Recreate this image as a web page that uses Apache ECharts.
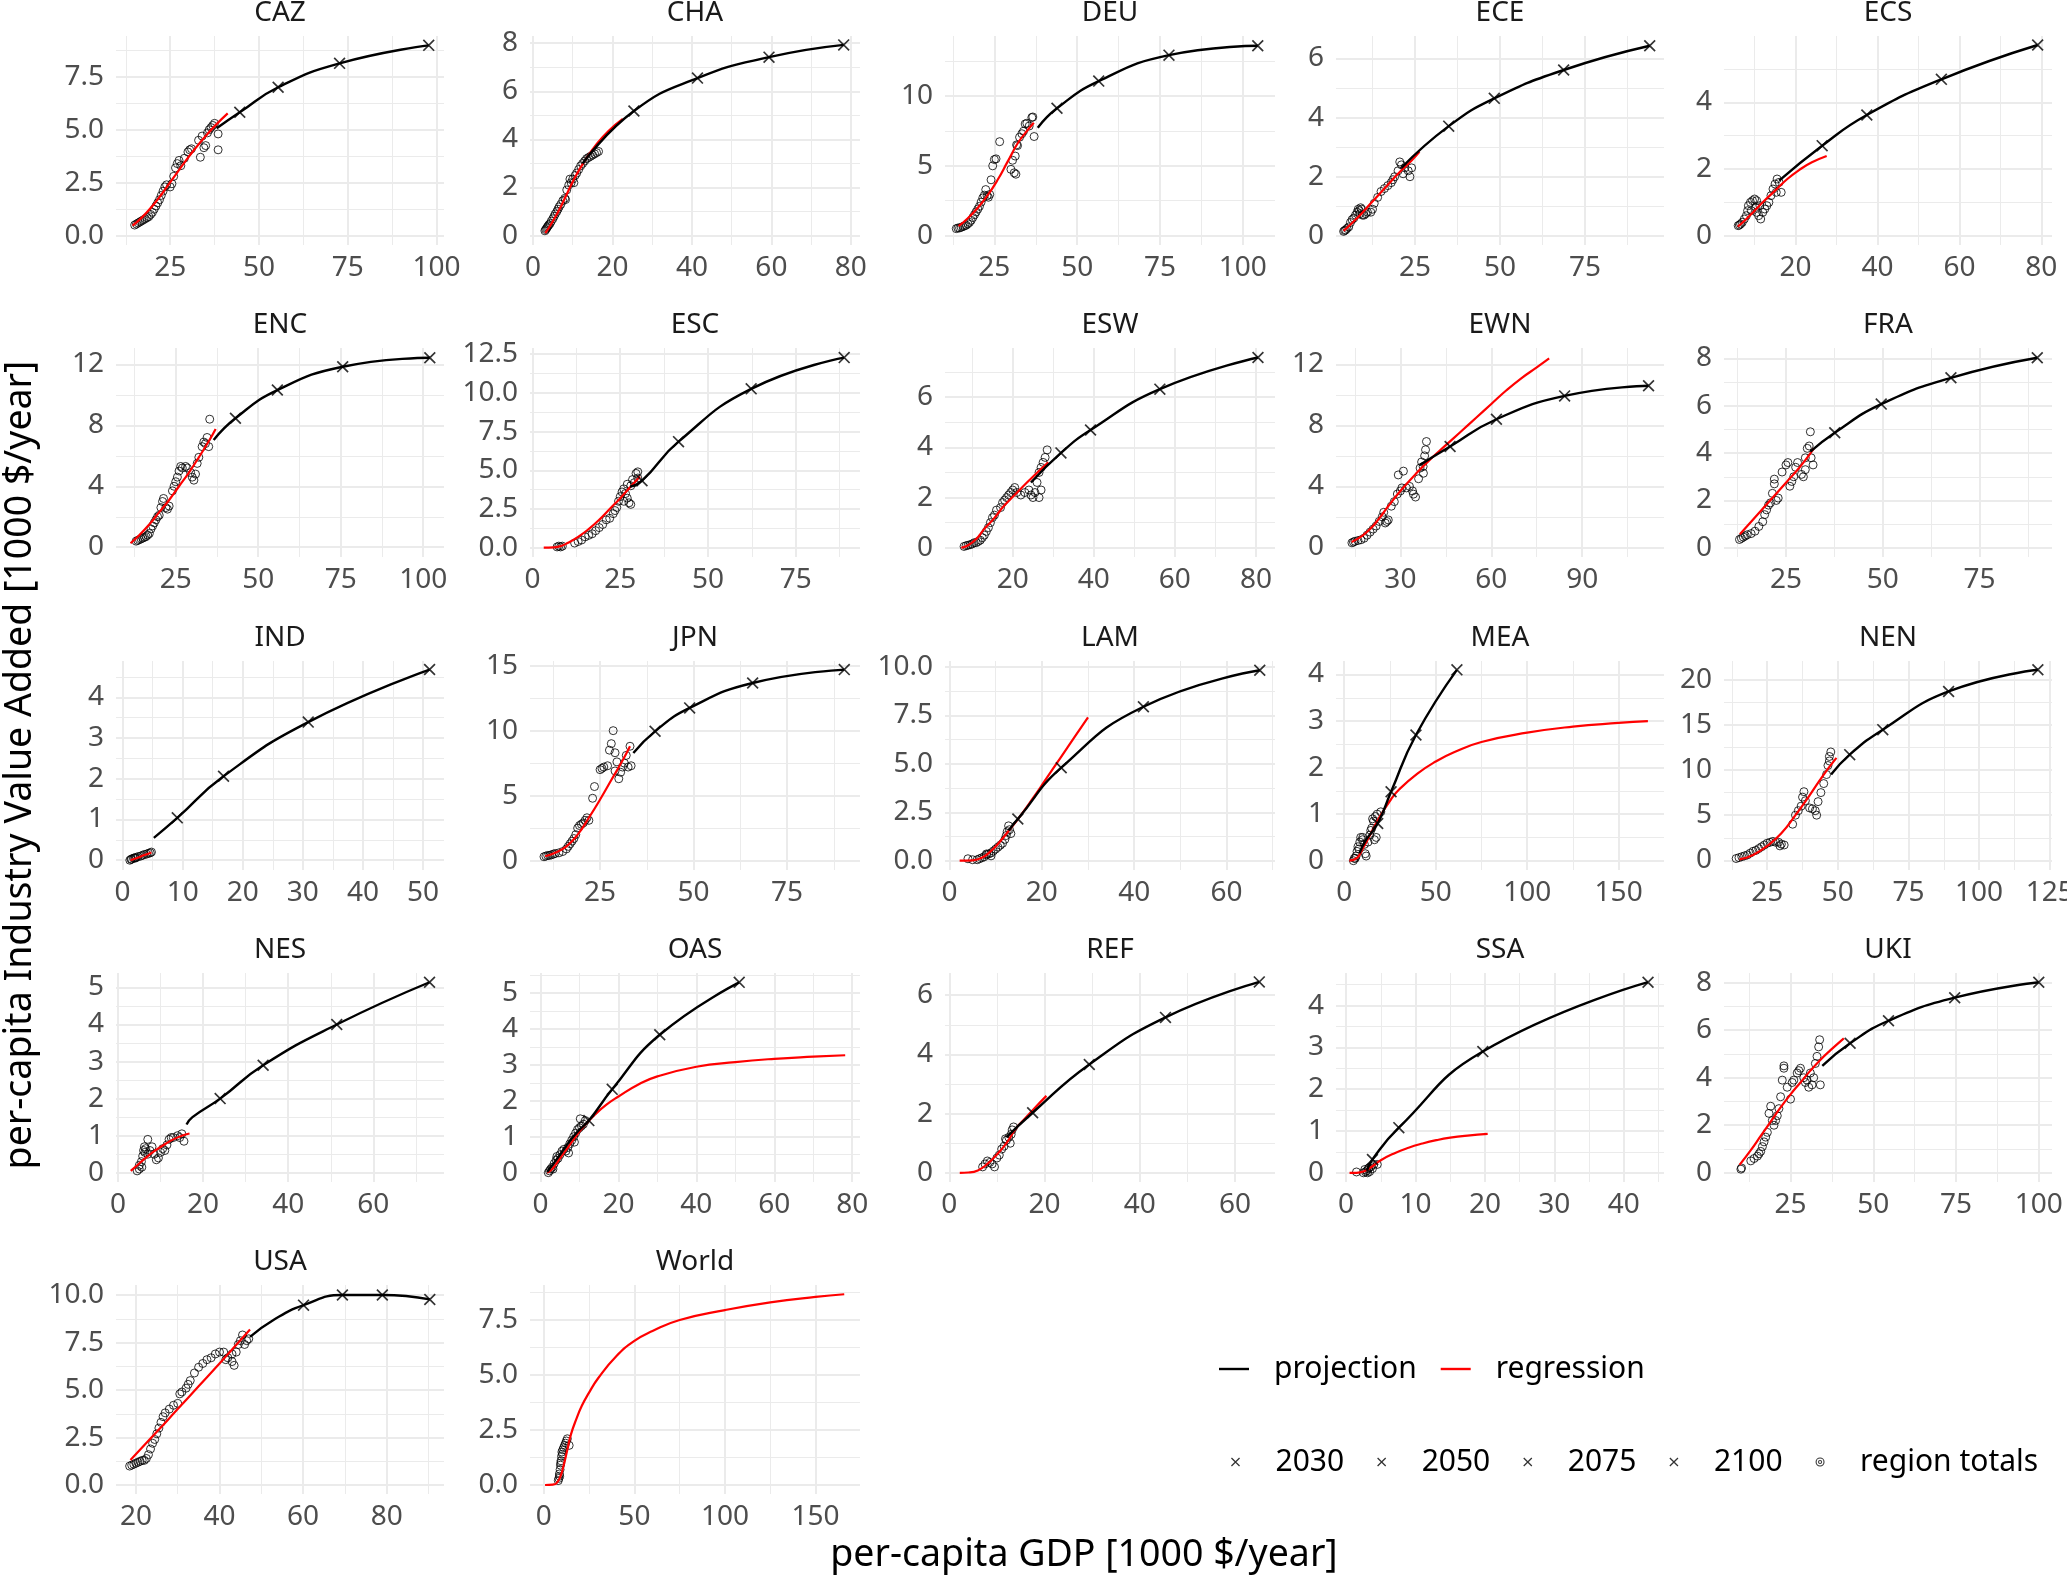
<!DOCTYPE html>
<html><head><meta charset="utf-8">
<script src="https://cdn.jsdelivr.net/npm/echarts@6/dist/echarts.min.js"></script>
<style>html,body{margin:0;padding:0;background:#fff}#c{width:2067px;height:1577px}</style>
</head><body><div id="c"></div>
<script>
const regions = ['CAZ','CHA','DEU','ECE','ECS','ENC','ESC','ESW','EWN','FRA','IND','JPN','LAM','MEA','NEN','NES','OAS','REF','SSA','UKI','USA','World'];
const yearNames = ['2030','2050','2075','2100'];

// ---- axis limits and tick labels per panel ----
const CAZ_xRange=[9.75,102.1], CAZ_xTicks=[25,50,75,100], CAZ_yRange=[-0.44,9.42], CAZ_yTicks=[0,2.5,5,7.5];
const CHA_xRange=[-0.75,82.3], CHA_xTicks=[0,20,40,60,80], CHA_yRange=[-0.39,8.30], CHA_yTicks=[0,2,4,6,8];
const DEU_xRange=[10.1,109.7], DEU_xTicks=[25,50,75,100], DEU_yRange=[-0.67,14.3], DEU_yTicks=[0,5,10];
const ECE_xRange=[1.76,98.2], ECE_xTicks=[25,50,75], ECE_yRange=[-0.31,6.76], ECE_yTicks=[0,2,4,6];
const ECS_xRange=[2.54,82.6], ECS_xTicks=[20,40,60,80], ECS_yRange=[-0.28,5.99], ECS_yTicks=[0,2,4];
const ENC_xRange=[6.9,106.3], ENC_xTicks=[25,50,75,100], ENC_yRange=[-0.64,13.07], ENC_yTicks=[0,4,8,12];
const ESC_xRange=[-0.71,93.3], ESC_xTicks=[0,25,50,75], ESC_yRange=[-0.6,12.9], ESC_yTicks=[0,2.5,5,7.5,10,12.5];
const ESW_xRange=[3.3,84.7], ESW_xTicks=[20,40,60,80], ESW_yRange=[-0.37,7.96], ESW_yTicks=[0,2,4,6];
const EWN_xRange=[8.75,117], EWN_xTicks=[30,60,90], EWN_yRange=[-0.63,13.07], EWN_yTicks=[0,4,8,12];
const FRA_xRange=[9.0,93.7], FRA_xTicks=[25,50,75], FRA_yRange=[-0.39,8.44], FRA_yTicks=[0,2,4,6,8];
const IND_xRange=[-1.1,53.5], IND_xTicks=[0,10,20,30,40,50], IND_yRange=[-0.24,4.89], IND_yTicks=[0,1,2,3,4];
const JPN_xRange=[6.26,94.5], JPN_xTicks=[25,50,75], JPN_yRange=[-0.72,15.36], JPN_yTicks=[0,5,10,15];
const LAM_xRange=[-0.97,70.5], LAM_xTicks=[0,20,40,60], LAM_yRange=[-0.48,10.31], LAM_yTicks=[0,2.5,5,7.5,10];
const MEA_xRange=[-4.5,174.8], MEA_xTicks=[0,50,100,150], MEA_yRange=[-0.2,4.29], MEA_yTicks=[0,1,2,3,4];
const NEN_xRange=[9.7,125.8], NEN_xTicks=[25,50,75,100,125], NEN_yRange=[-1.07,22.07], NEN_yTicks=[0,5,10,15,20];
const NES_xRange=[-0.47,76.6], NES_xTicks=[0,20,40,60], NES_yRange=[-0.25,5.39], NES_yTicks=[0,1,2,3,4,5];
const OAS_xRange=[-2.7,82], OAS_xTicks=[0,20,40,60,80], OAS_yRange=[-0.26,5.56], OAS_yTicks=[0,1,2,3,4,5];
const REF_xRange=[-0.9,68.4], REF_xTicks=[0,20,40,60], REF_yRange=[-0.31,6.75], REF_yTicks=[0,2,4,6];
const SSA_xRange=[-1.45,45.8], SSA_xTicks=[0,10,20,30,40], SSA_yRange=[-0.22,4.78], SSA_yTicks=[0,1,2,3,4];
const UKI_xRange=[4.9,104], UKI_xTicks=[25,50,75,100], UKI_yRange=[-0.39,8.41], UKI_yTicks=[0,2,4,6,8];
const USA_xRange=[15.24,93.7], USA_xTicks=[20,40,60,80], USA_yRange=[-0.47,10.53], USA_yTicks=[0,2.5,5,7.5,10];
const World_xRange=[-7.6,174.5], World_xTicks=[0,50,100,150], World_yRange=[-0.41,9.09], World_yTicks=[0,2.5,5,7.5];

// ---- data: region totals, regression curve, projection start, projection years (2030,2050,2075,2100) ----
const CAZ_points=[[15,0.5],[15.5,0.55],[16,0.6],[16.5,0.65],[17,0.7],[17.5,0.75],[18,0.8],[18.5,0.85],[19,0.9],[19.5,1.0],[20,1.1],[20.5,1.25],[21,1.4],[21.5,1.55],[22,1.7],[22.5,1.9],[23,2.1],[23.5,2.3],[24,2.4],[25,2.3],[25.5,2.45],[26,2.8],[26.5,3.2],[27,3.4],[27.5,3.55],[28,3.3],[29,3.65],[30,3.95],[30.5,4.05],[31,4.1],[33,4.5],[33.5,3.7],[34,4.7],[34.5,4.15],[35,4.25],[35.5,4.85],[36,5.0],[36.5,5.1],[37,5.2],[37.5,5.3],[38.5,4.8],[38.5,4.05]];
const CAZ_regression=[[14.4,0.47],[17,0.85],[20,1.4],[23,2.05],[26,2.75],[29,3.45],[32,4.1],[35,4.7],[38,5.25],[41.2,5.77]];
const CAZ_projection=[[38.1,5.07]];
const CAZ_years=[[44.6,5.82],[55.4,7.0],[72.7,8.13],[97.8,8.98]];

const CHA_points=[[3,0.2],[3.2,0.25],[3.4,0.3],[3.6,0.35],[3.8,0.4],[4,0.45],[4.3,0.5],[4.6,0.6],[5,0.7],[5.3,0.8],[5.6,0.9],[6,1.0],[6.3,1.1],[6.6,1.2],[7,1.3],[7.5,1.45],[8,1.55],[8.2,1.5],[8.5,1.9],[9,2.1],[9.3,2.35],[9.6,2.2],[10,2.35],[10.3,2.2],[10.6,2.5],[11,2.6],[11.5,2.75],[12,2.9],[12.5,3.0],[13,3.1],[13.5,3.2],[14,3.25],[14.5,3.3],[15,3.35],[15.5,3.4],[16,3.45],[16.5,3.5]];
const CHA_regression=[[3.1,0.1],[5,0.6],[7,1.2],[9,1.9],[11,2.55],[13,3.1],[16,3.8],[19,4.35],[22.6,4.85]];
const CHA_projection=[[12.5,3.0]];
const CHA_years=[[25.4,5.18],[41.4,6.55],[59.4,7.42],[78.2,7.93]];

const DEU_points=[[13.5,0.5],[14,0.55],[14.5,0.55],[15,0.6],[15.5,0.65],[16,0.7],[16.5,0.75],[17,0.85],[17.5,0.95],[18,1.1],[18.5,1.3],[19,1.5],[19.5,1.7],[20,1.9],[20.5,2.1],[21,2.4],[21.5,2.7],[22,2.9],[22.4,3.3],[22.8,2.85],[23.2,2.75],[23.6,2.95],[24,4.0],[24.5,5.0],[25,5.45],[25.5,5.5],[26.6,6.73],[30,4.75],[30.5,5.4],[31,4.5],[31.3,5.7],[31.5,4.4],[31.7,6.5],[32,6.45],[32.6,7.05],[33.3,7.3],[33.8,7.48],[34.3,8.0],[34.8,8.05],[35.5,7.85],[36.3,8.46],[36.6,8.5],[37,7.1]];
const DEU_regression=[[14.2,0.69],[17,1.25],[20,2.0],[23,2.9],[26,4.0],[29,5.3],[32,6.6],[34.5,7.4],[36.9,8.09]];
const DEU_projection=[[38.1,7.73]];
const DEU_years=[[43.9,9.12],[56.5,11.07],[77.7,12.93],[104.5,13.6]];

const ECE_points=[[4,0.15],[4.3,0.18],[4.6,0.2],[5,0.25],[5.5,0.3],[6,0.45],[6.5,0.55],[7,0.6],[7.5,0.7],[8,0.8],[8.3,0.9],[8.6,0.85],[8.8,0.75],[9,0.95],[9.3,0.9],[9.5,0.7],[10,0.7],[10.5,0.75],[11,0.8],[12,0.8],[12.5,0.9],[13,1.1],[14,1.3],[15,1.5],[16,1.6],[17,1.7],[18,1.8],[18.5,1.9],[19,2.0],[20,2.2],[20.5,2.5],[21,2.4],[21.5,2.1],[22,2.3],[23,2.2],[23.5,2.0],[24,2.3]];
const ECE_regression=[[4,0.17],[8,0.6],[12,1.1],[16,1.6],[20,2.1],[24,2.55],[26.3,2.84]];
const ECE_projection=[[21,2.3]];
const ECE_years=[[34.9,3.71],[48.3,4.65],[68.7,5.61],[94,6.43]];

const ECS_points=[[6,0.3],[6.3,0.32],[6.6,0.35],[7,0.4],[7.5,0.5],[8,0.6],[8.3,0.75],[8.5,0.9],[9,1.0],[9.5,1.05],[9.2,0.75],[10,1.1],[10.3,0.85],[10.5,1.05],[10.5,0.7],[11,0.6],[11.3,0.9],[11.5,0.5],[12,0.7],[12.5,0.8],[13,0.9],[13.5,1.0],[14,1.2],[14.5,1.4],[15,1.55],[15.3,1.3],[15.5,1.7],[16,1.6],[16.5,1.3]];
const ECS_regression=[[5.9,0.27],[8,0.5],[10,0.75],[12,1.0],[15,1.35],[18,1.7],[21,1.98],[24,2.2],[27.6,2.39]];
const ECS_projection=[[16,1.65]];
const ECS_years=[[26.5,2.70],[37.4,3.62],[55.6,4.69],[79.1,5.72]];

const ENC_points=[[13,0.4],[13.5,0.45],[14,0.5],[14.5,0.55],[15,0.6],[15.5,0.65],[16,0.7],[16.5,0.8],[17,0.9],[17.5,1.2],[18,1.4],[18.5,1.6],[19,1.8],[19.5,2.0],[20,2.1],[20.5,2.6],[21,3.0],[21.3,3.2],[22,2.6],[22.5,2.5],[23,2.7],[24,3.7],[24.5,4.0],[25,4.3],[25.5,4.6],[26,5.0],[26.5,5.3],[27,5.2],[28,5.3],[28.5,5.2],[29.5,4.9],[30,4.6],[30.5,4.4],[31,4.8],[31.5,5.5],[32,5.9],[33,6.6],[33.5,6.9],[34,6.8],[34.5,7.2],[35,6.6],[35.3,8.4]];
const ENC_regression=[[11.3,0.26],[14,0.8],[17,1.5],[20,2.3],[23,3.1],[26,4.0],[29,4.9],[32,5.9],[35,6.95],[37.1,7.76]];
const ENC_projection=[[36.5,7.04]];
const ENC_years=[[43.1,8.46],[55.8,10.31],[75.6,11.84],[102,12.43]];

const ESC_points=[[7,0.05],[7.5,0.1],[8,0.05],[8.5,0.1],[12,0.3],[13,0.4],[14,0.5],[15,0.7],[16,0.8],[17,0.9],[18,1.1],[19,1.3],[20,1.5],[21,1.8],[22,1.9],[23,2.2],[23.5,2.4],[24,2.6],[24.5,3.0],[25,3.3],[25.5,3.6],[26,3.8],[26.5,3.5],[27,3.2],[27.5,2.9],[28,2.8],[28,4.0],[28.5,4.4],[29,4.2],[29.5,4.8],[30,4.9],[30,4.5],[27,4.1],[26,3.0]];
const ESC_regression=[[3.2,0],[6,0.02],[8,0.1],[10,0.3],[13,0.7],[16,1.2],[19,1.8],[22,2.5],[25,3.2],[28,3.95],[30.6,4.6]];
const ESC_projection=[[27.8,3.94]];
const ESC_years=[[31.2,4.33],[41.6,6.85],[62.3,10.26],[88.8,12.28]];

const ESW_points=[[8,0.05],[8.5,0.08],[9,0.1],[9.5,0.12],[10,0.15],[10.5,0.2],[11,0.2],[11.5,0.25],[12,0.3],[12.5,0.4],[13,0.5],[13.5,0.65],[14,0.8],[14.5,1.0],[15,1.2],[15.5,1.3],[16,1.5],[17,1.6],[17.5,1.8],[18,1.9],[18.5,2.0],[19,2.1],[19.5,2.2],[20,2.3],[20.5,2.4],[21,2.2],[22,2.1],[23,2.2],[24,2.3],[24.5,2.1],[25,2.0],[25.5,2.2],[26,2.6],[26.5,3.0],[27,3.2],[27.5,3.4],[28,3.6],[28.5,3.9],[27,2.3],[26.5,2.0]];
const ESW_regression=[[7.3,0],[9,0.1],[11,0.35],[13,0.75],[15.4,1.17],[17.5,1.6],[19.6,1.96],[22,2.35],[25.3,2.88],[28.8,3.4]];
const ESW_projection=[[24.5,2.6]];
const ESW_years=[[31.9,3.78],[39.2,4.69],[56.3,6.32],[80.5,7.58]];

const EWN_points=[[14,0.3],[14.5,0.35],[15,0.4],[16,0.45],[17,0.5],[18,0.6],[19,0.8],[20,1.0],[21,1.2],[22,1.4],[23,1.7],[24,2.0],[24.5,2.3],[25,1.6],[25.5,1.7],[26,1.8],[27,2.7],[28,3.0],[29,3.5],[29.3,4.75],[30,3.7],[30.5,3.9],[31,5.0],[32,3.9],[33,4.0],[34,3.7],[34.3,3.49],[35,3.3],[36,4.5],[36.5,5.2],[37,5.6],[37.6,4.86],[37.5,5.3],[38,6.0],[38.3,6.4],[38.6,6.94]];
const EWN_regression=[[13.9,0.35],[17,0.7],[20,1.2],[23,1.9],[26,2.7],[30,3.7],[35,4.8],[40,5.8],[45,6.7],[50,7.6],[55,8.5],[60,9.4],[65,10.3],[70,11.1],[75,11.8],[79.1,12.39]];
const EWN_projection=[[36.5,5.41]];
const EWN_years=[[46.4,6.61],[61.7,8.4],[84.2,9.93],[111.9,10.6]];

const FRA_points=[[13,0.35],[13.5,0.4],[14,0.45],[14.5,0.5],[15,0.55],[16,0.6],[17,0.7],[18,0.9],[19,1.1],[19.5,1.4],[20,1.6],[20.5,1.8],[21,1.9],[21.5,2.3],[22,2.7],[22,2.9],[22.5,2.0],[23,2.1],[24,3.2],[25,3.5],[25.5,3.6],[26,2.6],[26.5,2.8],[27,3.0],[27.5,3.4],[28,3.6],[29,3.1],[29.5,3.0],[30,3.8],[30.5,4.2],[31,4.3],[31.3,4.9],[31.5,3.8],[32,3.5],[30,3.3]];
const FRA_regression=[[13.1,0.57],[16,1.1],[19,1.65],[22,2.2],[25,2.75],[28,3.3],[30,3.7],[32.2,4.2]];
const FRA_projection=[[31.3,4.06]];
const FRA_years=[[37.6,4.86],[49.6,6.07],[67.6,7.18],[89.9,8.03]];

const IND_points=[[1.2,0.0],[1.4,0.02],[1.5,0.03],[1.8,0.05],[2,0.06],[2.1,0.05],[2.3,0.07],[2.6,0.09],[3,0.1],[3.3,0.12],[3.6,0.14],[4,0.15],[4.3,0.17],[4.6,0.18],[4.8,0.2]];
const IND_regression=[[1.3,0.0],[2.5,0.06],[3.5,0.12],[4.8,0.19]];
const IND_projection=[[5.2,0.55]];
const IND_years=[[9.1,1.04],[16.8,2.06],[30.9,3.39],[51.1,4.68]];

const JPN_points=[[10,0.3],[10.5,0.35],[11,0.4],[11.5,0.4],[12,0.45],[12.5,0.5],[13,0.55],[14,0.6],[15,0.7],[16,0.9],[16.5,1.1],[17,1.3],[17.5,1.5],[18,1.7],[18.5,2.0],[19,2.5],[19.5,2.7],[20,2.8],[20.5,2.9],[21,3.1],[21.5,3.3],[22,3.1],[23,4.8],[23.5,5.7],[25,7.0],[25.5,7.1],[26,7.2],[27,7.3],[27.5,8.5],[28,9.0],[28.5,10.0],[29,8.3],[29.5,7.6],[30,6.3],[30.5,6.8],[31,7.2],[31.5,7.5],[32,8.1],[32.5,7.2],[33,8.8],[33.3,7.3],[29,6.9]];
const JPN_regression=[[10.3,0.34],[13,0.6],[16,1.1],[19,2.0],[22,3.3],[25,4.7],[28,6.2],[31,7.7],[33,8.8]];
const JPN_projection=[[33.9,8.28]];
const JPN_years=[[39.7,9.95],[48.95,11.75],[65.8,13.67],[90.3,14.7]];

const LAM_points=[[4,0.1],[5,0.05],[6,0.05],[6.5,0.1],[7,0.15],[7.5,0.2],[8,0.3],[8.5,0.35],[9,0.4],[9.5,0.5],[10,0.6],[10.5,0.7],[11,0.8],[11.5,0.9],[12,1.1],[12.3,1.3],[12.5,1.5],[12.8,1.8],[13,1.6],[13.3,1.4],[9,0.25],[8,0.35]];
const LAM_regression=[[2.2,0],[5,0.02],[7,0.15],[9,0.5],[11,1.0],[13,1.6],[15,2.2],[18,3.2],[21,4.25],[24,5.3],[27,6.35],[30,7.4]];
const LAM_projection=[[12.8,1.56]];
const LAM_years=[[14.8,2.15],[24.2,4.8],[42,7.95],[67.2,9.83]];

const MEA_points=[[5,0.0],[5.5,0.05],[6,0.05],[6.5,0.1],[7,0.2],[7.5,0.3],[8,0.25],[8.5,0.4],[9,0.5],[10,0.45],[10.1,0.5],[11,0.35],[11.5,0.15],[12,0.1],[13,0.4],[14,0.55],[15,0.7],[16,0.85],[17,0.95],[18,1.0],[20,1.05],[17.5,0.5],[16.5,0.45],[14.5,0.65],[15.5,0.9]];
const MEA_regression=[[2.8,0],[7,0.06],[10,0.25],[13.7,0.52],[16,0.7],[20,0.98],[25.6,1.32],[30,1.53],[40,1.87],[50,2.13],[60,2.33],[75,2.55],[100,2.75],[125,2.88],[150,2.96],[166,3.0]];
const MEA_projection=[[8.3,0.16],[12,0.45]];
const MEA_years=[[18.3,0.8],[25.6,1.48],[39.2,2.7],[61.6,4.1]];

const NEN_points=[[14,0.2],[15,0.3],[16,0.4],[17,0.5],[18,0.6],[19,0.8],[20,1.0],[21,1.1],[22,1.3],[23,1.5],[24,1.7],[25,1.9],[26,2.0],[27,2.1],[28,2.0],[29,2.0],[29.5,1.6],[30,1.8],[31,1.7],[34,4.0],[35,5.0],[36,5.5],[37,6.0],[37.5,7.0],[38,7.6],[38.5,6.6],[40,5.8],[41,5.7],[42,5.5],[42.5,5.0],[43,6.5],[44,7.5],[45,8.5],[46,9.5],[46.5,10.5],[47,11.5],[47.5,12.0],[47,11.0]];
const NEN_regression=[[15.2,0.1],[20,0.6],[25,1.6],[30,3.0],[35,5.0],[40,7.2],[45,9.5],[49.5,11.35]];
const NEN_projection=[[47.6,9.5]];
const NEN_years=[[54.2,11.7],[65.9,14.47],[89.2,18.7],[120.8,21.1]];

const NES_points=[[4.5,0.05],[5,0.1],[5,0.2],[5.5,0.3],[5.8,0.45],[6,0.6],[6.2,0.7],[6.5,0.65],[7,0.5],[7,0.9],[7.5,0.6],[8,0.7],[8.5,0.5],[9,0.35],[9.5,0.4],[10,0.55],[10.5,0.65],[11,0.6],[11.5,0.75],[12,0.9],[12.5,0.95],[13,0.95],[14,1.0],[14.5,0.95],[15,1.05],[15.5,0.85],[6.3,0.55],[5.6,0.15]];
const NES_regression=[[3,0.05],[5,0.25],[7,0.45],[9,0.62],[11,0.77],[13,0.9],[15,1.0],[16.8,1.06]];
const NES_projection=[[16.1,1.3],[17.5,1.5]];
const NES_years=[[24,2.0],[34.1,2.9],[51.4,4.0],[73.2,5.14]];

const OAS_points=[[2,0.0],[2.3,0.05],[2.6,0.1],[3,0.15],[3.5,0.25],[4,0.35],[4.5,0.4],[5,0.5],[5.5,0.6],[6,0.65],[6.5,0.6],[7,0.7],[7.5,0.8],[8,0.9],[8.5,1.0],[9,1.1],[9.5,1.2],[10,1.25],[10.5,1.3],[11,1.35],[3.2,0.1],[4.2,0.45],[7.2,0.55],[8.7,0.85],[10.2,1.5],[11.5,1.45]];
const OAS_regression=[[1.7,0],[3,0.1],[5,0.4],[7,0.7],[9,1.0],[11,1.28],[14,1.62],[17,1.9],[20,2.12],[25,2.45],[30,2.68],[40,2.95],[50,3.08],[60,3.17],[70,3.23],[78.2,3.27]];
const OAS_projection=[[1.7,0.02],[4,0.35],[6,0.65],[8,0.95],[10,1.2]];
const OAS_years=[[12.4,1.45],[18.4,2.32],[30.6,3.84],[51,5.3]];

const REF_points=[[7,0.2],[7.5,0.3],[8,0.4],[8.5,0.35],[9,0.3],[9.5,0.2],[10,0.5],[10.5,0.6],[11,0.8],[11.5,0.9],[12,1.1],[12.5,1.2],[13,1.3],[13.2,1.45],[13.5,1.55],[12.8,1.0],[11.8,1.15]];
const REF_regression=[[2.2,0],[4,0.01],[6,0.08],[8,0.3],[10,0.62],[12,1.0],[14,1.5],[16,1.85],[18,2.2],[20.4,2.6]];
const REF_projection=[[12,1.2]];
const REF_years=[[17.5,2.03],[29.4,3.66],[45.4,5.25],[65.1,6.45]];

const SSA_points=[[1.5,0.02],[2.5,0.0],[2.8,0.02],[3,0.05],[3.2,0.1],[3.4,0.03],[3.6,0.15],[3.8,0.1],[4,0.2],[4.5,0.2],[2.7,0.08],[3.1,0.0],[3.3,0.12]];
const SSA_regression=[[0.5,0],[1.5,0.0],[2.5,0.03],[3.5,0.12],[5,0.3],[7,0.47],[9,0.6],[11,0.7],[13,0.78],[15,0.84],[17.5,0.89],[20.4,0.93]];
const SSA_projection=[[3,0.05]];
const SSA_years=[[3.8,0.32],[7.6,1.08],[19.7,2.9],[43.5,4.56]];

const UKI_points=[[10,0.15],[10.2,0.2],[13,0.5],[14,0.6],[15,0.7],[15.5,0.8],[16,0.9],[16.5,1.1],[17,1.3],[17.5,1.5],[18,1.7],[18.5,2.5],[19,2.8],[19.5,2.2],[20,2.0],[20.5,2.2],[21,2.4],[21.5,2.7],[22,3.2],[22.5,3.9],[23,4.4],[23,4.5],[24,3.6],[25,3.1],[25.5,3.8],[26,3.9],[27,4.2],[27.5,4.3],[28,4.4],[29,4.0],[29.5,3.8],[30,3.9],[30.5,3.6],[31,4.2],[31.5,3.7],[32,4.0],[32.5,4.6],[33,4.9],[33.5,5.3],[34,3.7],[33.8,5.6]];
const UKI_regression=[[9.6,0.33],[13,0.95],[16,1.55],[19,2.15],[22,2.75],[25,3.3],[28,3.8],[31,4.3],[34,4.75],[37,5.15],[41.1,5.66]];
const UKI_projection=[[34.6,4.5]];
const UKI_years=[[43,5.45],[54.6,6.4],[74.6,7.37],[100,8.02]];

const USA_points=[[18.5,1.0],[19,1.05],[19.5,1.1],[20,1.15],[20.5,1.2],[21,1.25],[21.5,1.3],[22,1.3],[22.5,1.4],[23,1.6],[23.5,1.9],[24,2.2],[24.5,2.4],[25,2.7],[25.5,3.0],[26,3.3],[26.5,3.6],[27,3.8],[28,4.0],[29,4.2],[30,4.3],[30.5,4.8],[31,4.9],[32,5.1],[32.5,5.3],[33,5.5],[34,5.9],[35,6.2],[36,6.4],[37,6.6],[38,6.7],[39,6.9],[40,7.0],[41,7.0],[41.5,6.6],[42,6.7],[43,6.5],[43.5,6.3],[44,7.0],[44.5,7.4],[45,7.6],[45.5,7.9],[46,7.4],[46.5,7.6],[47,7.7],[43,6.9]];
const USA_regression=[[18.7,1.32],[25,2.8],[30,4.0],[35,5.2],[40,6.4],[47.3,8.19]];
const USA_projection=[[47.3,7.8],[53,8.7]];
const USA_years=[[60.1,9.47],[69.4,10.0],[78.95,10.0],[90.3,9.77]];

const World_points=[[8,0.2],[8.3,0.3],[8.6,0.5],[8.8,0.4],[9,0.7],[9.2,0.9],[9.4,1.0],[9.5,1.1],[9.8,1.3],[10,1.5],[10.3,1.4],[10.5,1.6],[11,1.7],[11.5,1.8],[12,1.9],[12.5,2.0],[13,2.1],[14,1.8]];
const World_regression=[[0.7,0],[5,0.02],[7,0.08],[9,0.35],[11,0.9],[13,1.6],[15,2.3],[18,3.0],[21,3.6],[25,4.2],[30,4.85],[40,5.85],[50,6.55],[60,7.0],[75,7.5],[100,7.95],[125,8.3],[150,8.55],[165.8,8.67]];
const World_projection=[];
const World_years=[];

// ---- assemble (table built from the named arrays above) ----
const panels = [
 [CAZ_xRange,CAZ_xTicks,CAZ_yRange,CAZ_yTicks,CAZ_points,CAZ_regression,CAZ_projection,CAZ_years],
 [CHA_xRange,CHA_xTicks,CHA_yRange,CHA_yTicks,CHA_points,CHA_regression,CHA_projection,CHA_years],
 [DEU_xRange,DEU_xTicks,DEU_yRange,DEU_yTicks,DEU_points,DEU_regression,DEU_projection,DEU_years],
 [ECE_xRange,ECE_xTicks,ECE_yRange,ECE_yTicks,ECE_points,ECE_regression,ECE_projection,ECE_years],
 [ECS_xRange,ECS_xTicks,ECS_yRange,ECS_yTicks,ECS_points,ECS_regression,ECS_projection,ECS_years],
 [ENC_xRange,ENC_xTicks,ENC_yRange,ENC_yTicks,ENC_points,ENC_regression,ENC_projection,ENC_years],
 [ESC_xRange,ESC_xTicks,ESC_yRange,ESC_yTicks,ESC_points,ESC_regression,ESC_projection,ESC_years],
 [ESW_xRange,ESW_xTicks,ESW_yRange,ESW_yTicks,ESW_points,ESW_regression,ESW_projection,ESW_years],
 [EWN_xRange,EWN_xTicks,EWN_yRange,EWN_yTicks,EWN_points,EWN_regression,EWN_projection,EWN_years],
 [FRA_xRange,FRA_xTicks,FRA_yRange,FRA_yTicks,FRA_points,FRA_regression,FRA_projection,FRA_years],
 [IND_xRange,IND_xTicks,IND_yRange,IND_yTicks,IND_points,IND_regression,IND_projection,IND_years],
 [JPN_xRange,JPN_xTicks,JPN_yRange,JPN_yTicks,JPN_points,JPN_regression,JPN_projection,JPN_years],
 [LAM_xRange,LAM_xTicks,LAM_yRange,LAM_yTicks,LAM_points,LAM_regression,LAM_projection,LAM_years],
 [MEA_xRange,MEA_xTicks,MEA_yRange,MEA_yTicks,MEA_points,MEA_regression,MEA_projection,MEA_years],
 [NEN_xRange,NEN_xTicks,NEN_yRange,NEN_yTicks,NEN_points,NEN_regression,NEN_projection,NEN_years],
 [NES_xRange,NES_xTicks,NES_yRange,NES_yTicks,NES_points,NES_regression,NES_projection,NES_years],
 [OAS_xRange,OAS_xTicks,OAS_yRange,OAS_yTicks,OAS_points,OAS_regression,OAS_projection,OAS_years],
 [REF_xRange,REF_xTicks,REF_yRange,REF_yTicks,REF_points,REF_regression,REF_projection,REF_years],
 [SSA_xRange,SSA_xTicks,SSA_yRange,SSA_yTicks,SSA_points,SSA_regression,SSA_projection,SSA_years],
 [UKI_xRange,UKI_xTicks,UKI_yRange,UKI_yTicks,UKI_points,UKI_regression,UKI_projection,UKI_years],
 [USA_xRange,USA_xTicks,USA_yRange,USA_yTicks,USA_points,USA_regression,USA_projection,USA_years],
 [World_xRange,World_xTicks,World_yRange,World_yTicks,World_points,World_regression,World_projection,World_years]
];

// ---- layout ----
const FONT = '"Noto Sans", "Open Sans", sans-serif';
const colLeft=[116,530,945,1336,1724], colRight=[444,860,1275,1664,2052];
const rowTop=[36,348,661,973,1285], panelH=209;
const GRID='#EBEBEB';
const X_PATH='path://M0,1L1,0L10,9L9,10Z M9,0L10,1L1,10L0,9Z';
const LINE_ICON='path://M0,0L30,0L30,2.4L0,2.4Z';
const RING_ICON='path://M5,0A5,5 0 1,1 5,10A5,5 0 1,1 5,0Z M5,1.2A3.8,3.8 0 1,0 5,8.8A3.8,3.8 0 1,0 5,1.2Z M5,2.7A2.3,2.3 0 1,1 5,7.3A2.3,2.3 0 1,1 5,2.7Z M5,3.8A1.2,1.2 0 1,0 5,6.2A1.2,1.2 0 1,0 5,3.8Z';

function minors(ticks, range){
  const s = ticks.length>1 ? ticks[1]-ticks[0] : 1;
  const out=[];
  for(let v=ticks[0]-s/2; v<=ticks[ticks.length-1]+s/2+1e-9; v+=s){
    if(v>range[0]+1e-9 && v<range[1]-1e-9) out.push(+v.toFixed(6));
  }
  return out;
}
function fmt(ticks){
  const dec = ticks.some(t=>!Number.isInteger(t)) ? 1 : 0;
  return v => Number(v).toFixed(dec);
}

const grids=[], xAxes=[], yAxes=[], series=[], graphics=[];
panels.forEach((p,i)=>{
  const [xr,xt,yr,yt,pts,reg,proj,yrs]=p;
  const row=Math.floor(i/5), col=i%5;
  const L=colLeft[col], R=colRight[col], T=rowTop[row];
  grids.push({left:L, top:T, width:R-L, height:panelH, containLabel:false, outerBoundsMode:'none'});
  const lab = {color:'#4D4D4D', fontSize:28, fontFamily:FONT};
  xAxes.push({gridIndex:i, type:'value', min:xr[0], max:xr[1], position:'bottom',
    axisLine:{show:false}, axisTick:{show:false, customValues:xt},
    axisLabel:Object.assign({customValues:xt, formatter:fmt(xt), margin:9, hideOverlap:false}, lab),
    splitLine:{show:true, lineStyle:{color:GRID, width:2}}, z:1});
  xAxes.push({gridIndex:i, type:'value', min:xr[0], max:xr[1], position:'bottom',
    axisLine:{show:false}, axisTick:{show:false, customValues:minors(xt,xr)},
    axisLabel:{show:false}, splitLine:{show:true, lineStyle:{color:GRID, width:1}}, z:0});
  yAxes.push({gridIndex:i, type:'value', min:yr[0], max:yr[1], position:'left',
    axisLine:{show:false}, axisTick:{show:false, customValues:yt},
    axisLabel:Object.assign({customValues:yt, formatter:fmt(yt), margin:12, hideOverlap:false}, lab),
    splitLine:{show:true, lineStyle:{color:GRID, width:2}}, z:1});
  yAxes.push({gridIndex:i, type:'value', min:yr[0], max:yr[1], position:'left',
    axisLine:{show:false}, axisTick:{show:false, customValues:minors(yt,yr)},
    axisLabel:{show:false}, splitLine:{show:true, lineStyle:{color:GRID, width:1}}, z:0});
  const xi=2*i, yi=2*i;
  series.push({type:'scatter', name:'region totals', xAxisIndex:xi, yAxisIndex:yi, data:pts,
    symbol:'circle', symbolSize:8, itemStyle:{color:'rgba(255,255,255,0)', borderColor:'#000', borderWidth:1}, z:2, silent:true});
  series.push({type:'line', name:'regression', xAxisIndex:xi, yAxisIndex:yi, data:reg,
    smooth:0.5, symbol:'none', showSymbol:false,
    lineStyle:{color:'#FF0000', width:2.2}, itemStyle:{color:'#FF0000'}, z:3, silent:true});
  if(yrs.length){
    series.push({type:'line', name:'projection', xAxisIndex:xi, yAxisIndex:yi, data:proj.concat(yrs),
      smooth:0.5, symbol:'none', showSymbol:false,
      lineStyle:{color:'#000', width:2.4}, itemStyle:{color:'#000'}, z:4, silent:true});
    yrs.forEach((pt,k)=>{
      series.push({type:'scatter', name:yearNames[k], xAxisIndex:xi, yAxisIndex:yi, data:[pt],
        symbol:X_PATH, symbolSize:12, itemStyle:{color:'#000'}, z:5, silent:true});
    });
  }
  graphics.push({type:'text', x:(L+R)/2, y:T-23, silent:true,
    style:{text:regions[i], fill:'#1A1A1A', fontSize:28, fontFamily:FONT, align:'center', verticalAlign:'middle', textAlign:'center', textVerticalAlign:'middle'}});
});

graphics.push({type:'text', x:1084, y:1555, silent:true,
  style:{text:'per-capita GDP [1000 $/year]', fill:'#000', fontSize:37.5, fontFamily:FONT, align:'center', verticalAlign:'middle', textAlign:'center', textVerticalAlign:'middle'}});
graphics.push({type:'text', x:20, y:765, rotation:Math.PI/2, silent:true,
  style:{text:'per-capita Industry Value Added [1000 $/year]', fill:'#000', fontSize:37.5, fontFamily:FONT, align:'center', verticalAlign:'middle', textAlign:'center', textVerticalAlign:'middle'}});

const option = {
  animation:false,
  backgroundColor:'#fff',
  grid:grids, xAxis:xAxes, yAxis:yAxes, series:series, graphic:graphics,
  legend:[
    {data:[{name:'projection',icon:LINE_ICON},{name:'regression',icon:LINE_ICON}], left:1219, top:1354, orient:'horizontal', padding:0,
     itemWidth:30, itemHeight:14, itemGap:24, selectedMode:false,
     textStyle:{fontSize:30, color:'#000', fontFamily:FONT, padding:[0,0,0,20]}},
    {data:[{name:'2030',icon:X_PATH},{name:'2050',icon:X_PATH},{name:'2075',icon:X_PATH},{name:'2100',icon:X_PATH},
           {name:'region totals',icon:RING_ICON,itemStyle:{color:'#000',borderWidth:0}}],
     left:1231, top:1447, orient:'horizontal', padding:0,
     itemWidth:30, itemHeight:9, itemGap:33, selectedMode:false,
     textStyle:{fontSize:30, color:'#000', fontFamily:FONT, padding:[0,0,0,20]}}
  ]
};
const chart = echarts.init(document.getElementById('c'), null, {renderer:'canvas'});
chart.setOption(option);
</script></body></html>
